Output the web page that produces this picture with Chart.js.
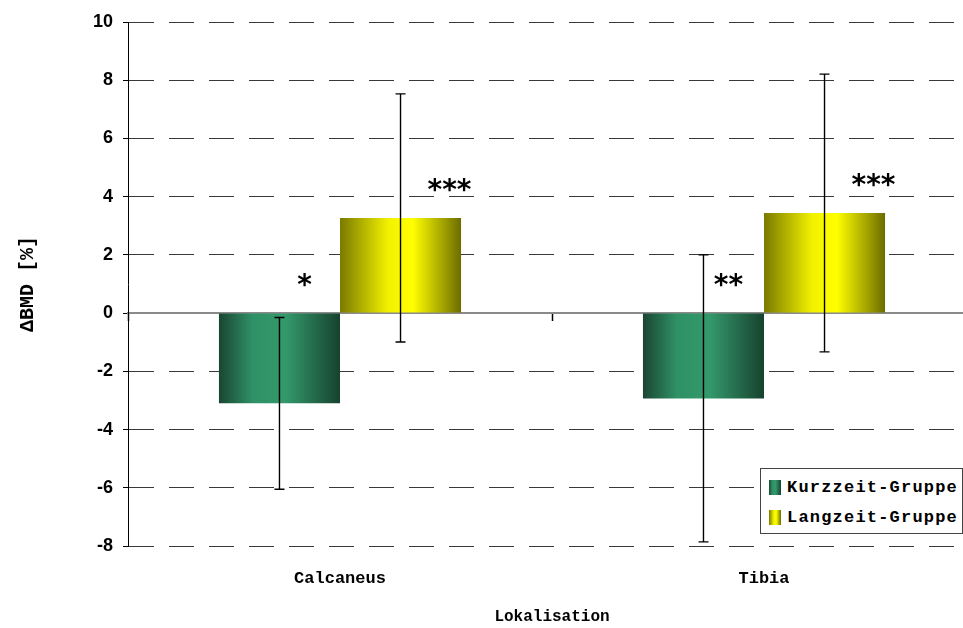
<!DOCTYPE html>
<html>
<head>
<meta charset="utf-8">
<script src="https://cdn.jsdelivr.net/npm/chart.js@4.4.1/dist/chart.umd.min.js"></script>
<style>
  html, body { margin: 0; padding: 0; background: #fff; overflow: hidden; }
  #wrap { position: relative; width: 980px; height: 628px; }
  #legend {
    position: absolute; left: 760px; top: 468px; width: 201px; height: 64px;
    border: 1px solid #444; background: #fff;
    font: bold 17px "Liberation Mono", monospace; letter-spacing: 1.2px; color: #000;
  }
  .item { position: absolute; left: 8px; height: 20px; display: flex; align-items: center; white-space: nowrap; }
  .sw { width: 12px; height: 15px; margin-right: 6px; }
</style>
</head>
<body>
<div id="wrap">
  <canvas id="chart" width="980" height="628"></canvas>
  <div id="legend"></div>
</div>

<script>
/* ===============================
   DATA
================================ */

const categories = ["Calcaneus", "Tibia"];
const seriesNames = ["Kurzzeit-Gruppe", "Langzeit-Gruppe"];

const kurzMean = [-3.1, -2.93];
const kurzSD = [2.95, 4.93];
const langMean = [3.27, 3.44];
const langSD = [4.26, 4.77];

const kurzSig = ["*", "**"];
const langSig = ["***", "***"];

const yMin = -8;
const yMax = 10;
const yStep = 2;

/* ===============================
   STYLES
================================ */

const gradStops = {
  green: [[0, "#1a4632"], [0.28, "#2f9166"], [0.55, "#33996b"], [1, "#17422e"]],
  yellow: [[0, "#7a7a00"], [0.4, "#f2f200"], [0.6, "#ffff00"], [1, "#6c6c00"]]
};

const monoFont = { family: "'Liberation Mono', monospace", weight: "bold", size: 17 };
const sansFont = { family: "'Liberation Sans', Arial, sans-serif", weight: "bold", size: 18 };

/* ===============================
   LEGEND (html)
================================ */

function cssGradient(stops) {
  return "linear-gradient(to right," +
    stops.map(s => `${s[1]} ${s[0] * 100}%`).join(",") + ")";
}

const legend = document.getElementById("legend");
[gradStops.green, gradStops.yellow].forEach((stops, i) => {
  const div = document.createElement("div");
  div.className = "item";
  div.style.top = (8 + i * 30) + "px";
  div.innerHTML = `<span class="sw" style="background:${cssGradient(stops)}"></span><span>${seriesNames[i]}</span>`;
  legend.appendChild(div);
});

/* ===============================
   PLUGINS
================================ */

// horizontal shading on each bar
const barGradient = {
  id: "barGradient",
  beforeDatasetsDraw(chart) {
    const ctx = chart.ctx;
    chart.data.datasets.forEach((ds, d) => {
      const meta = chart.getDatasetMeta(d);
      const stops = d === 0 ? gradStops.green : gradStops.yellow;
      meta.data.forEach(el => {
        const g = ctx.createLinearGradient(el.x - el.width / 2, 0, el.x + el.width / 2, 0);
        stops.forEach(s => g.addColorStop(s[0], s[1]));
        el.options = Object.assign({}, el.options, { backgroundColor: g });
      });
    });
  }
};

// error bars + significance marks
const errorBars = {
  id: "errorBars",
  afterDatasetsDraw(chart) {
    const ctx = chart.ctx;
    const y = chart.scales.y;
    const sds = [kurzSD, langSD];
    const sigs = [kurzSig, langSig];
    const sigDx = [25, 49];

    ctx.save();
    chart.data.datasets.forEach((ds, d) => {
      const meta = chart.getDatasetMeta(d);
      meta.data.forEach((el, i) => {
        const m = ds.data[i];
        const top = y.getPixelForValue(m + sds[d][i]);
        const bot = y.getPixelForValue(m - sds[d][i]);

        ctx.strokeStyle = "#000";
        ctx.lineWidth = 1.4;
        ctx.beginPath();
        ctx.moveTo(el.x, top);
        ctx.lineTo(el.x, bot);
        ctx.moveTo(el.x - 5, top);
        ctx.lineTo(el.x + 5, top);
        ctx.moveTo(el.x - 5, bot);
        ctx.lineTo(el.x + 5, bot);
        ctx.stroke();

        const base = Math.min(y.getPixelForValue(0), el.y);
        ctx.fillStyle = "#000";
        ctx.font = "bold 28px 'DejaVu Sans', sans-serif";
        ctx.textAlign = "center";
        ctx.textBaseline = "alphabetic";
        ctx.fillText(sigs[d][i], el.x + sigDx[d], base - 19);
      });
    });
    ctx.restore();
  }
};

/* ===============================
   CHART
================================ */

new Chart(document.getElementById("chart"), {
  type: "bar",
  data: {
    labels: categories,
    datasets: [
      { label: seriesNames[0], data: kurzMean, xAxisID: "x", backgroundColor: "#2f9166" },
      { label: seriesNames[1], data: langMean, xAxisID: "x", backgroundColor: "#ffff00" }
    ]
  },
  options: {
    responsive: false,
    animation: false,
    categoryPercentage: 0.571,
    barPercentage: 1.0,
    layout: { padding: { left: 0, top: 22, right: 4, bottom: 0 } },
    plugins: {
      legend: { display: false },
      tooltip: { enabled: false }
    },
    scales: {
      x: {
        type: "category",
        axis: "x",
        position: { y: 0 },
        offset: true,
        ticks: { display: false },
        grid: {
          offset: true,
          drawOnChartArea: false,
          drawTicks: true,
          tickLength: 7,
          tickColor: "#000",
          tickWidth: 1.5
        },
        border: { display: true, color: "#8a8a8a", width: 2 }
      },
      x2: {
        type: "category",
        axis: "x",
        position: "bottom",
        offset: true,
        grid: { display: false, drawTicks: false },
        border: { display: false },
        ticks: { font: monoFont, color: "#000", padding: 23, maxRotation: 0 },
        title: {
          display: true,
          text: "Lokalisation",
          color: "#000",
          font: { family: monoFont.family, weight: "bold", size: 16, lineHeight: 1 },
          padding: { top: 0, bottom: 3 }
        },
        afterFit(s) { s.height = 82; }
      },
      y: {
        min: yMin,
        max: yMax,
        ticks: { stepSize: yStep, font: sansFont, color: "#000", padding: 10 },
        grid: {
          color: c => (c.tick && c.tick.value === 0) ? "rgba(0,0,0,0)" : "#3a3a3a",
          lineWidth: 1,
          tickColor: "#000",
          tickLength: 5,
          tickBorderDash: []
        },
        border: { display: true, color: "#000", width: 1, dash: [25, 15] },
        title: {
          display: true,
          text: "ΔBMD [%]",
          color: "#000",
          font: { family: monoFont.family, weight: "bold", size: 20, lineHeight: 1 },
          padding: { top: 18, bottom: 0 }
        },
        afterFit(s) { s.width = 128; }
      }
    }
  },
  plugins: [barGradient, errorBars]
});
</script>
</body>
</html>
